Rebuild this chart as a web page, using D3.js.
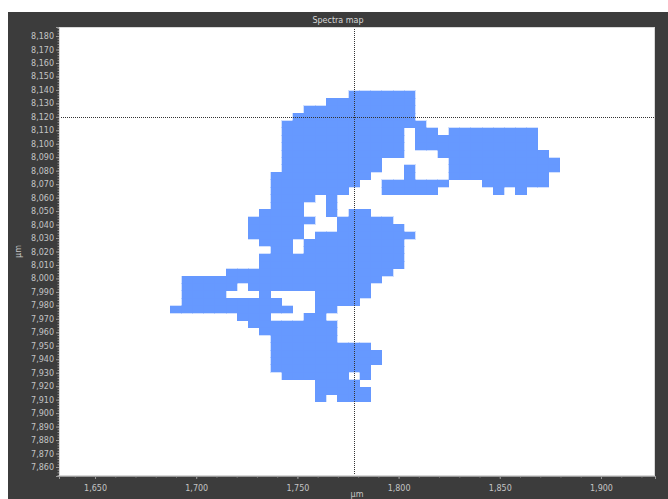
<!DOCTYPE html>
<html>
<head>
<meta charset="utf-8">
<script src="https://cdn.jsdelivr.net/npm/d3@7"></script>
<style>
  html, body { margin: 0; padding: 0; background: #ffffff; }
  svg { display: block; }
</style>
</head>
<body>
<svg id="chart" width="668" height="499"></svg>
<script>
// Measurement grid: x and y stage positions (µm) of the pixel centres
const xPositions = [1690, 1695.5, 1701, 1706.5, 1712, 1717.5, 1723, 1728.5, 1734, 1739.5,
  1745, 1750.5, 1756, 1761.5, 1767, 1772.5, 1778, 1783.5, 1789, 1794.5,
  1800, 1805.5, 1811, 1816.5, 1822, 1827.5, 1833, 1838.5, 1844, 1849.5,
  1855, 1860.5, 1866, 1871.5, 1877];
const yPositions = [8136.5, 8131, 8125.5, 8120, 8114.5, 8109, 8103.5, 8098, 8092.5, 8087,
  8081.5, 8076, 8070.5, 8065, 8059.5, 8054, 8048.5, 8043, 8037.5, 8032,
  8026.5, 8021, 8015.5, 8010, 8004.5, 7999, 7993.5, 7988, 7982.5, 7977,
  7971.5, 7966, 7960.5, 7955, 7949.5, 7944, 7938.5, 7933, 7927.5, 7922,
  7916.5, 7911];
const pixelStep = 5.5;

// Acquired spectra: one string per y position, '#' = spectrum present
const acquired = [
  "................######.............",
  "..............########.............",
  "............##########.............",
  "...........###########.............",
  "..........#############............",
  "..........###########.##.########..",
  "..........###########.###########..",
  "..........###########.###########..",
  "..........###########...##########.",
  "..........#########......##########",
  "..........#########..#...##########",
  ".........#########...#...#########.",
  ".........########..######...######.",
  ".........#######...#####.....#.#...",
  ".........####.#....................",
  ".........###..#....................",
  "........####..#.##.................",
  ".......######..#####...............",
  ".......#####...######..............",
  ".......#####.#########.............",
  "........###.#########..............",
  ".........##.#########..............",
  "........#############..............",
  "........#############..............",
  ".....###############...............",
  ".##################................",
  ".#####.###########.................",
  ".####...#....#####.................",
  ".#########...####..................",
  "###########..##....................",
  "......###...##.....................",
  ".......########....................",
  "........#######....................",
  ".........######....................",
  ".........#########.................",
  ".........##########................",
  ".........##########................",
  ".........#########.................",
  "..........######.#.................",
  ".............####..................",
  ".............#####.................",
  ".............#.###................."
];

// Axis ticks
const xTickValues = [1650, 1700, 1750, 1800, 1850, 1900];
const yTickValues = [7860, 7870, 7880, 7890, 7900, 7910, 7920, 7930, 7940, 7950,
  7960, 7970, 7980, 7990, 8000, 8010, 8020, 8030, 8040, 8050, 8060, 8070,
  8080, 8090, 8100, 8110, 8120, 8130, 8140, 8150, 8160, 8170, 8180];

// Cursor position
const cursorX = 1778;
const cursorY = 8120;

const titleText = "Spectra map";
const axisUnit = "µm";

// ---- layout ----
const frame = { left: 8, top: 12, right: 668, bottom: 499 };
const plot = { left: 59, top: 27, right: 655, bottom: 476 };

const svg = d3.select("#chart");
const labelFont = "DejaVu Sans, Verdana, sans-serif";
const labelColor = "#c4c4c4";

svg.append("rect")
  .attr("x", frame.left).attr("y", frame.top)
  .attr("width", frame.right - frame.left).attr("height", frame.bottom - frame.top)
  .attr("fill", "#3c3c3c");

svg.append("text")
  .attr("x", (frame.left + frame.right) / 2).attr("y", 22.5)
  .attr("text-anchor", "middle")
  .attr("font-family", labelFont).attr("font-size", 8)
  .attr("fill", "#d8d8d8")
  .text(titleText);

const x = d3.scaleLinear().domain([1632.2, 1926.7]).range([plot.left, plot.right]);
const y = d3.scaleLinear().domain([7853.3, 8186.7]).range([plot.bottom, plot.top]);

svg.append("rect")
  .attr("x", plot.left).attr("y", plot.top)
  .attr("width", plot.right - plot.left).attr("height", plot.bottom - plot.top)
  .attr("fill", "#ffffff");

// ---- map pixels ----
const cells = [];
acquired.forEach((row, j) => {
  for (let i = 0; i < row.length; i++) {
    if (row[i] === "#") cells.push({ cx: xPositions[i], cy: yPositions[j] });
  }
});

svg.append("g")
  .attr("shape-rendering", "crispEdges")
  .selectAll("rect")
  .data(cells)
  .join("rect")
  .attr("x", d => x(d.cx - pixelStep / 2))
  .attr("y", d => y(d.cy + pixelStep / 2))
  .attr("width", d => x(d.cx + pixelStep / 2) - x(d.cx - pixelStep / 2))
  .attr("height", d => y(d.cy - pixelStep / 2) - y(d.cy + pixelStep / 2))
  .attr("fill", "#6699ff")
  .attr("stroke", "#6699ff")
  .attr("stroke-width", 0.3);

// ---- cursor crosshair ----
const cursor = svg.append("g")
  .attr("stroke", "#333")
  .attr("stroke-width", 1)
  .attr("stroke-dasharray", "1,1");
cursor.append("line")
  .attr("x1", Math.round(x(cursorX)) + 0.5).attr("x2", Math.round(x(cursorX)) + 0.5)
  .attr("y1", plot.top).attr("y2", plot.bottom);
cursor.append("line")
  .attr("x1", plot.left).attr("x2", plot.right)
  .attr("y1", Math.round(y(cursorY)) + 0.5).attr("y2", Math.round(y(cursorY)) + 0.5);

// ---- axes ----
const fmt = d3.format(",");

const yAxis = svg.append("g")
  .attr("transform", `translate(${plot.left},0)`)
  .call(d3.axisLeft(y).tickValues(yTickValues).tickFormat(fmt).tickSize(3).tickPadding(2));
const yMinor = svg.append("g")
  .attr("transform", `translate(${plot.left},0)`)
  .call(d3.axisLeft(y).tickValues(d3.range(7854, 8187, 2)).tickFormat("").tickSize(1.5));

const xAxis = svg.append("g")
  .attr("transform", `translate(0,${plot.bottom})`)
  .call(d3.axisBottom(x).tickValues(xTickValues).tickFormat(fmt).tickSize(3).tickPadding(6));
const xMinor = svg.append("g")
  .attr("transform", `translate(0,${plot.bottom})`)
  .call(d3.axisBottom(x).tickValues(d3.range(1640, 1926, 10)).tickFormat("").tickSize(1.5));

[yAxis, yMinor, xAxis, xMinor].forEach(g => {
  g.select(".domain").attr("stroke", "#9a9a9a");
  g.selectAll(".tick line").attr("stroke", "#9a9a9a");
  g.selectAll(".tick text")
    .attr("fill", labelColor)
    .attr("font-family", labelFont)
    .attr("font-size", 8);
});

// plot border
svg.append("rect")
  .attr("x", plot.left + 0.5).attr("y", plot.top + 0.5)
  .attr("width", plot.right - plot.left - 1).attr("height", plot.bottom - plot.top - 1)
  .attr("fill", "none").attr("stroke", "#d8d8d8").attr("stroke-width", 1);

// axis titles
svg.append("text")
  .attr("x", (plot.left + plot.right) / 2).attr("y", 497)
  .attr("text-anchor", "middle")
  .attr("font-family", labelFont).attr("font-size", 8)
  .attr("fill", labelColor)
  .text(axisUnit);

svg.append("text")
  .attr("transform", `translate(21,${(plot.top + plot.bottom) / 2}) rotate(-90)`)
  .attr("text-anchor", "middle")
  .attr("font-family", labelFont).attr("font-size", 8)
  .attr("fill", labelColor)
  .text(axisUnit);
</script>
</body>
</html>
